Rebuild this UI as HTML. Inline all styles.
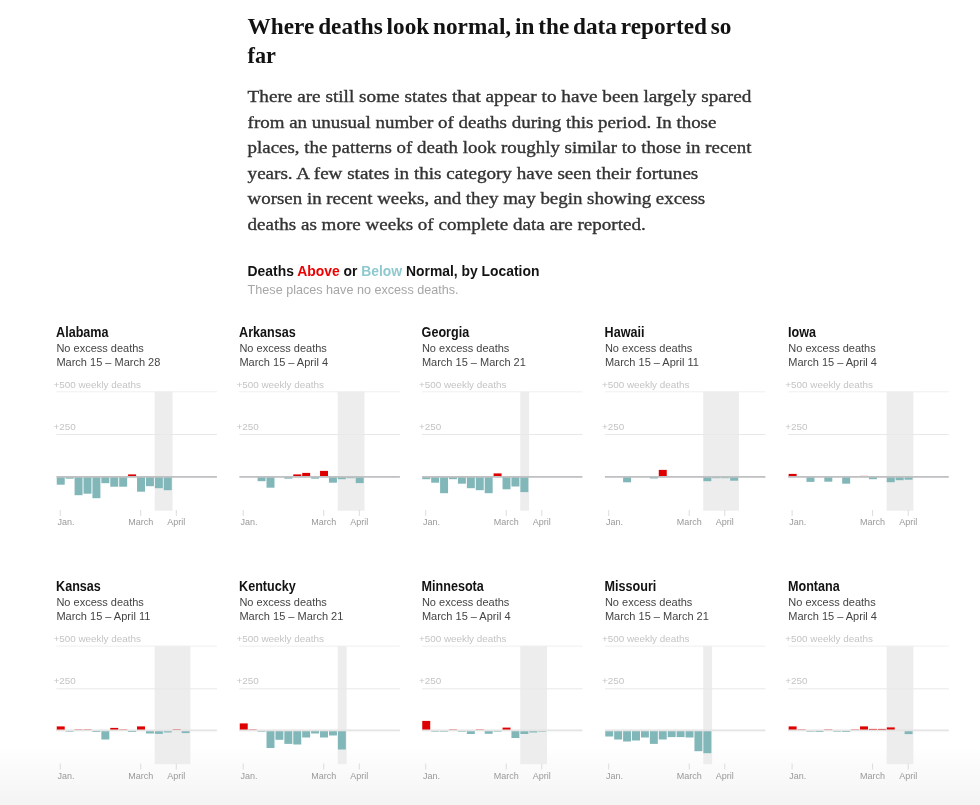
<!DOCTYPE html>
<html><head><meta charset="utf-8"><title>Where deaths look normal</title>
<style>
html,body{margin:0;padding:0;}
body{width:980px;height:805px;overflow:hidden;position:relative;background:#fff;}
.fade{position:absolute;left:0;top:750px;width:980px;height:55px;background:linear-gradient(#fefefe,#f4f4f4);}
svg{position:absolute;left:0;top:0;}
.h{font-family:"Liberation Serif",serif;font-weight:bold;font-size:23.5px;fill:#121212;word-spacing:-2px;}
.b{font-family:"Liberation Serif",serif;font-size:17px;fill:#333;stroke:#333;stroke-width:0.35px;}
.ct{font-family:"Liberation Sans",sans-serif;font-weight:bold;font-size:15px;fill:#121212;}
.cs{font-family:"Liberation Sans",sans-serif;font-size:13.2px;fill:#a6a6a6;}
.pt{font-family:"Liberation Sans",sans-serif;font-weight:bold;font-size:14px;fill:#121212;}
.ps{font-family:"Liberation Sans",sans-serif;font-size:11px;fill:#444;}
.al{font-family:"Liberation Sans",sans-serif;font-size:9.9px;fill:#c4c4c4;}
.tl{font-family:"Liberation Sans",sans-serif;font-size:9px;fill:#999;}
</style></head><body>
<div class="fade"></div>
<svg width="980" height="805" viewBox="0 0 980 805">
<text x="247.6" y="34.1" class="h" textLength="483.8" lengthAdjust="spacingAndGlyphs">Where deaths look normal, in the data reported so</text>
<text x="247.6" y="63" class="h" textLength="28.4" lengthAdjust="spacingAndGlyphs">far</text>
<text x="247.6" y="102.20" class="b" textLength="503.8" lengthAdjust="spacingAndGlyphs">There are still some states that appear to have been largely spared</text>
<text x="247.6" y="127.66" class="b" textLength="468.8" lengthAdjust="spacingAndGlyphs">from an unusual number of deaths during this period. In those</text>
<text x="247.6" y="153.12" class="b" textLength="503.8" lengthAdjust="spacingAndGlyphs">places, the patterns of death look roughly similar to those in recent</text>
<text x="247.6" y="178.58" class="b" textLength="450.7" lengthAdjust="spacingAndGlyphs">years. A few states in this category have seen their fortunes</text>
<text x="247.6" y="204.04" class="b" textLength="457.6" lengthAdjust="spacingAndGlyphs">worsen in recent weeks, and they may begin showing excess</text>
<text x="247.6" y="229.50" class="b" textLength="398.1" lengthAdjust="spacingAndGlyphs">deaths as more weeks of complete data are reported.</text>
<text x="247.6" y="275.7" class="ct" textLength="291.8" lengthAdjust="spacingAndGlyphs">Deaths <tspan fill="#ee0000">Above</tspan> or <tspan fill="#8ec9cf">Below</tspan> Normal, by Location</text>
<text x="247.6" y="294.1" class="cs" textLength="211.0" lengthAdjust="spacingAndGlyphs">These places have no excess deaths.</text>
<text transform="translate(56.10 336.60) scale(0.9 1)" class="pt">Alabama</text>
<text x="56.4" y="351.8" class="ps">No excess deaths</text>
<text x="56.4" y="365.5" class="ps">March 15 – March 28</text>
<text x="53.4" y="387.5" class="al">+500 weekly deaths</text>
<text x="53.4" y="429.5" class="al">+250</text>
<rect x="154.72" y="391.5" width="17.84" height="119.20" fill="#ededed"/>
<rect x="56.4" y="391.3" width="160.5" height="1" fill="#efefef"/>
<rect x="56.4" y="434" width="160.5" height="1" fill="#e8e8e8"/>
<rect x="56.75" y="476.90" width="7.97" height="7.80" fill="#82b7b9"/>
<rect x="65.67" y="476.90" width="7.97" height="1.80" fill="#82b7b9"/>
<rect x="74.59" y="476.90" width="7.97" height="18.30" fill="#82b7b9"/>
<rect x="83.51" y="476.90" width="7.97" height="16.80" fill="#82b7b9"/>
<rect x="92.43" y="476.90" width="7.97" height="21.30" fill="#82b7b9"/>
<rect x="101.35" y="476.90" width="7.97" height="6.30" fill="#82b7b9"/>
<rect x="110.27" y="476.90" width="7.97" height="9.80" fill="#82b7b9"/>
<rect x="119.19" y="476.90" width="7.97" height="9.80" fill="#82b7b9"/>
<rect x="128.11" y="474.40" width="7.97" height="2.50" fill="#de0000"/>
<rect x="137.03" y="476.90" width="7.97" height="14.80" fill="#82b7b9"/>
<rect x="145.95" y="476.90" width="7.97" height="9.30" fill="#82b7b9"/>
<rect x="154.87" y="476.90" width="7.97" height="11.30" fill="#82b7b9"/>
<rect x="163.79" y="476.90" width="7.97" height="13.30" fill="#82b7b9"/>
<rect x="56.4" y="476.00" width="160.5" height="1.8" fill="#bfc1c2"/>
<rect x="59.70" y="510" width="1" height="6" fill="#dcdcdc"/>
<rect x="140.20" y="510" width="1" height="6" fill="#dcdcdc"/>
<rect x="175.80" y="510" width="1" height="6" fill="#dcdcdc"/>
<text x="57.4" y="525" class="tl">Jan.</text>
<text x="140.7" y="525" class="tl" text-anchor="middle">March</text>
<text x="176.3" y="525" class="tl" text-anchor="middle">April</text>
<text transform="translate(239.10 336.60) scale(0.9 1)" class="pt">Arkansas</text>
<text x="239.4" y="351.8" class="ps">No excess deaths</text>
<text x="239.4" y="365.5" class="ps">March 15 – April 4</text>
<text x="236.4" y="387.5" class="al">+500 weekly deaths</text>
<text x="236.4" y="429.5" class="al">+250</text>
<rect x="337.72" y="391.5" width="26.76" height="119.20" fill="#ededed"/>
<rect x="239.4" y="391.3" width="160.5" height="1" fill="#efefef"/>
<rect x="239.4" y="434" width="160.5" height="1" fill="#e8e8e8"/>
<rect x="248.67" y="476.00" width="7.97" height="0.90" fill="#de0000"/>
<rect x="257.59" y="476.90" width="7.97" height="4.30" fill="#82b7b9"/>
<rect x="266.51" y="476.90" width="7.97" height="10.80" fill="#82b7b9"/>
<rect x="284.35" y="476.90" width="7.97" height="1.80" fill="#82b7b9"/>
<rect x="293.27" y="474.40" width="7.97" height="2.50" fill="#de0000"/>
<rect x="302.19" y="472.90" width="7.97" height="4.00" fill="#de0000"/>
<rect x="311.11" y="476.90" width="7.97" height="1.80" fill="#82b7b9"/>
<rect x="320.03" y="470.90" width="7.97" height="6.00" fill="#de0000"/>
<rect x="328.95" y="476.90" width="7.97" height="5.80" fill="#82b7b9"/>
<rect x="337.87" y="476.90" width="7.97" height="2.30" fill="#82b7b9"/>
<rect x="346.79" y="476.90" width="7.97" height="1.30" fill="#82b7b9"/>
<rect x="355.71" y="476.90" width="7.97" height="6.20" fill="#82b7b9"/>
<rect x="239.4" y="476.00" width="160.5" height="1.8" fill="#bfc1c2"/>
<rect x="242.70" y="510" width="1" height="6" fill="#dcdcdc"/>
<rect x="323.20" y="510" width="1" height="6" fill="#dcdcdc"/>
<rect x="358.80" y="510" width="1" height="6" fill="#dcdcdc"/>
<text x="240.4" y="525" class="tl">Jan.</text>
<text x="323.7" y="525" class="tl" text-anchor="middle">March</text>
<text x="359.3" y="525" class="tl" text-anchor="middle">April</text>
<text transform="translate(421.60 336.60) scale(0.9 1)" class="pt">Georgia</text>
<text x="421.9" y="351.8" class="ps">No excess deaths</text>
<text x="421.9" y="365.5" class="ps">March 15 – March 21</text>
<text x="418.9" y="387.5" class="al">+500 weekly deaths</text>
<text x="418.9" y="429.5" class="al">+250</text>
<rect x="520.22" y="391.5" width="8.92" height="119.20" fill="#ededed"/>
<rect x="421.9" y="391.3" width="160.5" height="1" fill="#efefef"/>
<rect x="421.9" y="434" width="160.5" height="1" fill="#e8e8e8"/>
<rect x="422.25" y="476.90" width="7.97" height="2.30" fill="#82b7b9"/>
<rect x="431.17" y="476.90" width="7.97" height="5.80" fill="#82b7b9"/>
<rect x="440.09" y="476.90" width="7.97" height="16.30" fill="#82b7b9"/>
<rect x="449.01" y="476.90" width="7.97" height="2.30" fill="#82b7b9"/>
<rect x="457.93" y="476.90" width="7.97" height="6.80" fill="#82b7b9"/>
<rect x="466.85" y="476.90" width="7.97" height="11.30" fill="#82b7b9"/>
<rect x="475.77" y="476.90" width="7.97" height="13.30" fill="#82b7b9"/>
<rect x="484.69" y="476.90" width="7.97" height="16.30" fill="#82b7b9"/>
<rect x="493.61" y="473.40" width="7.97" height="3.50" fill="#de0000"/>
<rect x="502.53" y="476.90" width="7.97" height="12.40" fill="#82b7b9"/>
<rect x="511.45" y="476.90" width="7.97" height="9.60" fill="#82b7b9"/>
<rect x="520.37" y="476.90" width="7.97" height="15.20" fill="#82b7b9"/>
<rect x="421.9" y="476.00" width="160.5" height="1.8" fill="#bfc1c2"/>
<rect x="425.20" y="510" width="1" height="6" fill="#dcdcdc"/>
<rect x="505.70" y="510" width="1" height="6" fill="#dcdcdc"/>
<rect x="541.30" y="510" width="1" height="6" fill="#dcdcdc"/>
<text x="422.9" y="525" class="tl">Jan.</text>
<text x="506.2" y="525" class="tl" text-anchor="middle">March</text>
<text x="541.8" y="525" class="tl" text-anchor="middle">April</text>
<text transform="translate(604.60 336.60) scale(0.9 1)" class="pt">Hawaii</text>
<text x="604.9" y="351.8" class="ps">No excess deaths</text>
<text x="604.9" y="365.5" class="ps">March 15 – April 11</text>
<text x="601.9" y="387.5" class="al">+500 weekly deaths</text>
<text x="601.9" y="429.5" class="al">+250</text>
<rect x="703.22" y="391.5" width="35.68" height="119.20" fill="#ededed"/>
<rect x="604.9" y="391.3" width="160.5" height="1" fill="#efefef"/>
<rect x="604.9" y="434" width="160.5" height="1" fill="#e8e8e8"/>
<rect x="623.09" y="476.90" width="7.97" height="5.40" fill="#82b7b9"/>
<rect x="649.85" y="476.90" width="7.97" height="1.60" fill="#82b7b9"/>
<rect x="658.77" y="469.90" width="7.97" height="7.00" fill="#de0000"/>
<rect x="667.69" y="476.00" width="7.97" height="0.90" fill="#de0000"/>
<rect x="685.53" y="476.00" width="7.97" height="0.90" fill="#de0000"/>
<rect x="694.45" y="476.00" width="7.97" height="0.90" fill="#de0000"/>
<rect x="703.37" y="476.90" width="7.97" height="4.30" fill="#82b7b9"/>
<rect x="712.29" y="476.90" width="7.97" height="1.30" fill="#82b7b9"/>
<rect x="721.21" y="476.90" width="7.97" height="1.30" fill="#82b7b9"/>
<rect x="730.13" y="476.90" width="7.97" height="3.80" fill="#82b7b9"/>
<rect x="604.9" y="476.00" width="160.5" height="1.8" fill="#bfc1c2"/>
<rect x="608.20" y="510" width="1" height="6" fill="#dcdcdc"/>
<rect x="688.70" y="510" width="1" height="6" fill="#dcdcdc"/>
<rect x="724.30" y="510" width="1" height="6" fill="#dcdcdc"/>
<text x="605.9" y="525" class="tl">Jan.</text>
<text x="689.2" y="525" class="tl" text-anchor="middle">March</text>
<text x="724.8" y="525" class="tl" text-anchor="middle">April</text>
<text transform="translate(788.00 336.60) scale(0.9 1)" class="pt">Iowa</text>
<text x="788.3" y="351.8" class="ps">No excess deaths</text>
<text x="788.3" y="365.5" class="ps">March 15 – April 4</text>
<text x="785.3" y="387.5" class="al">+500 weekly deaths</text>
<text x="785.3" y="429.5" class="al">+250</text>
<rect x="886.62" y="391.5" width="26.76" height="119.20" fill="#ededed"/>
<rect x="788.3" y="391.3" width="160.5" height="1" fill="#efefef"/>
<rect x="788.3" y="434" width="160.5" height="1" fill="#e8e8e8"/>
<rect x="788.65" y="473.90" width="7.97" height="3.00" fill="#de0000"/>
<rect x="806.49" y="476.90" width="7.97" height="5.00" fill="#82b7b9"/>
<rect x="824.33" y="476.90" width="7.97" height="4.80" fill="#82b7b9"/>
<rect x="842.17" y="476.90" width="7.97" height="6.80" fill="#82b7b9"/>
<rect x="851.09" y="476.00" width="7.97" height="0.90" fill="#de0000"/>
<rect x="860.01" y="475.90" width="7.97" height="1.00" fill="#de0000"/>
<rect x="868.93" y="476.90" width="7.97" height="2.30" fill="#82b7b9"/>
<rect x="877.85" y="476.00" width="7.97" height="0.90" fill="#de0000"/>
<rect x="886.77" y="476.90" width="7.97" height="5.30" fill="#82b7b9"/>
<rect x="895.69" y="476.90" width="7.97" height="3.30" fill="#82b7b9"/>
<rect x="904.61" y="476.90" width="7.97" height="2.80" fill="#82b7b9"/>
<rect x="788.3" y="476.00" width="160.5" height="1.8" fill="#bfc1c2"/>
<rect x="791.60" y="510" width="1" height="6" fill="#dcdcdc"/>
<rect x="872.10" y="510" width="1" height="6" fill="#dcdcdc"/>
<rect x="907.70" y="510" width="1" height="6" fill="#dcdcdc"/>
<text x="789.3" y="525" class="tl">Jan.</text>
<text x="872.6" y="525" class="tl" text-anchor="middle">March</text>
<text x="908.2" y="525" class="tl" text-anchor="middle">April</text>
<text transform="translate(56.10 590.90) scale(0.9 1)" class="pt">Kansas</text>
<text x="56.4" y="606.1" class="ps">No excess deaths</text>
<text x="56.4" y="619.8" class="ps">March 15 – April 11</text>
<text x="53.4" y="641.8" class="al">+500 weekly deaths</text>
<text x="53.4" y="683.8" class="al">+250</text>
<rect x="154.72" y="645.8" width="35.68" height="118.40" fill="#ededed"/>
<rect x="56.4" y="645.6" width="160.5" height="1" fill="#efefef"/>
<rect x="56.4" y="688.3" width="160.5" height="1" fill="#e8e8e8"/>
<rect x="56.75" y="726.40" width="7.97" height="4.00" fill="#de0000"/>
<rect x="65.67" y="730.40" width="7.97" height="1.30" fill="#82b7b9"/>
<rect x="74.59" y="729.50" width="7.97" height="0.90" fill="#de0000"/>
<rect x="83.51" y="729.50" width="7.97" height="0.90" fill="#de0000"/>
<rect x="92.43" y="730.40" width="7.97" height="1.60" fill="#82b7b9"/>
<rect x="101.35" y="730.40" width="7.97" height="9.10" fill="#82b7b9"/>
<rect x="110.27" y="727.90" width="7.97" height="2.50" fill="#de0000"/>
<rect x="119.19" y="729.50" width="7.97" height="0.90" fill="#de0000"/>
<rect x="128.11" y="730.40" width="7.97" height="1.60" fill="#82b7b9"/>
<rect x="137.03" y="726.40" width="7.97" height="4.00" fill="#de0000"/>
<rect x="145.95" y="730.40" width="7.97" height="3.10" fill="#82b7b9"/>
<rect x="154.87" y="730.40" width="7.97" height="3.50" fill="#82b7b9"/>
<rect x="163.79" y="730.40" width="7.97" height="2.10" fill="#82b7b9"/>
<rect x="172.71" y="729.40" width="7.97" height="1.00" fill="#de0000"/>
<rect x="181.63" y="730.40" width="7.97" height="2.70" fill="#82b7b9"/>
<rect x="56.4" y="729.50" width="160.5" height="1.8" fill="#e4e4e4"/>
<rect x="59.70" y="763.5" width="1" height="6" fill="#dcdcdc"/>
<rect x="140.20" y="763.5" width="1" height="6" fill="#dcdcdc"/>
<rect x="175.80" y="763.5" width="1" height="6" fill="#dcdcdc"/>
<text x="57.4" y="778.5" class="tl">Jan.</text>
<text x="140.7" y="778.5" class="tl" text-anchor="middle">March</text>
<text x="176.3" y="778.5" class="tl" text-anchor="middle">April</text>
<text transform="translate(239.10 590.90) scale(0.9 1)" class="pt">Kentucky</text>
<text x="239.4" y="606.1" class="ps">No excess deaths</text>
<text x="239.4" y="619.8" class="ps">March 15 – March 21</text>
<text x="236.4" y="641.8" class="al">+500 weekly deaths</text>
<text x="236.4" y="683.8" class="al">+250</text>
<rect x="337.72" y="645.8" width="8.92" height="118.40" fill="#ededed"/>
<rect x="239.4" y="645.6" width="160.5" height="1" fill="#efefef"/>
<rect x="239.4" y="688.3" width="160.5" height="1" fill="#e8e8e8"/>
<rect x="239.75" y="723.40" width="7.97" height="7.00" fill="#de0000"/>
<rect x="248.67" y="729.50" width="7.97" height="0.90" fill="#de0000"/>
<rect x="257.59" y="730.40" width="7.97" height="1.30" fill="#82b7b9"/>
<rect x="266.51" y="730.40" width="7.97" height="17.60" fill="#82b7b9"/>
<rect x="275.43" y="730.40" width="7.97" height="9.40" fill="#82b7b9"/>
<rect x="284.35" y="730.40" width="7.97" height="13.50" fill="#82b7b9"/>
<rect x="293.27" y="730.40" width="7.97" height="14.10" fill="#82b7b9"/>
<rect x="302.19" y="730.40" width="7.97" height="7.10" fill="#82b7b9"/>
<rect x="311.11" y="730.40" width="7.97" height="3.10" fill="#82b7b9"/>
<rect x="320.03" y="730.40" width="7.97" height="7.10" fill="#82b7b9"/>
<rect x="328.95" y="730.40" width="7.97" height="5.10" fill="#82b7b9"/>
<rect x="337.87" y="730.40" width="7.97" height="19.10" fill="#82b7b9"/>
<rect x="239.4" y="729.50" width="160.5" height="1.8" fill="#e4e4e4"/>
<rect x="242.70" y="763.5" width="1" height="6" fill="#dcdcdc"/>
<rect x="323.20" y="763.5" width="1" height="6" fill="#dcdcdc"/>
<rect x="358.80" y="763.5" width="1" height="6" fill="#dcdcdc"/>
<text x="240.4" y="778.5" class="tl">Jan.</text>
<text x="323.7" y="778.5" class="tl" text-anchor="middle">March</text>
<text x="359.3" y="778.5" class="tl" text-anchor="middle">April</text>
<text transform="translate(421.60 590.90) scale(0.9 1)" class="pt">Minnesota</text>
<text x="421.9" y="606.1" class="ps">No excess deaths</text>
<text x="421.9" y="619.8" class="ps">March 15 – April 4</text>
<text x="418.9" y="641.8" class="al">+500 weekly deaths</text>
<text x="418.9" y="683.8" class="al">+250</text>
<rect x="520.22" y="645.8" width="26.76" height="118.40" fill="#ededed"/>
<rect x="421.9" y="645.6" width="160.5" height="1" fill="#efefef"/>
<rect x="421.9" y="688.3" width="160.5" height="1" fill="#e8e8e8"/>
<rect x="422.25" y="720.90" width="7.97" height="9.50" fill="#de0000"/>
<rect x="431.17" y="730.40" width="7.97" height="1.30" fill="#82b7b9"/>
<rect x="440.09" y="730.40" width="7.97" height="1.30" fill="#82b7b9"/>
<rect x="449.01" y="729.50" width="7.97" height="0.90" fill="#de0000"/>
<rect x="457.93" y="730.40" width="7.97" height="1.30" fill="#82b7b9"/>
<rect x="466.85" y="730.40" width="7.97" height="3.60" fill="#82b7b9"/>
<rect x="475.77" y="729.50" width="7.97" height="0.90" fill="#de0000"/>
<rect x="484.69" y="730.40" width="7.97" height="3.40" fill="#82b7b9"/>
<rect x="493.61" y="730.40" width="7.97" height="1.30" fill="#82b7b9"/>
<rect x="502.53" y="727.60" width="7.97" height="2.80" fill="#de0000"/>
<rect x="511.45" y="730.40" width="7.97" height="7.60" fill="#82b7b9"/>
<rect x="520.37" y="730.40" width="7.97" height="3.60" fill="#82b7b9"/>
<rect x="529.29" y="730.40" width="7.97" height="2.10" fill="#82b7b9"/>
<rect x="538.21" y="730.40" width="7.97" height="1.30" fill="#82b7b9"/>
<rect x="421.9" y="729.50" width="160.5" height="1.8" fill="#e4e4e4"/>
<rect x="425.20" y="763.5" width="1" height="6" fill="#dcdcdc"/>
<rect x="505.70" y="763.5" width="1" height="6" fill="#dcdcdc"/>
<rect x="541.30" y="763.5" width="1" height="6" fill="#dcdcdc"/>
<text x="422.9" y="778.5" class="tl">Jan.</text>
<text x="506.2" y="778.5" class="tl" text-anchor="middle">March</text>
<text x="541.8" y="778.5" class="tl" text-anchor="middle">April</text>
<text transform="translate(604.60 590.90) scale(0.9 1)" class="pt">Missouri</text>
<text x="604.9" y="606.1" class="ps">No excess deaths</text>
<text x="604.9" y="619.8" class="ps">March 15 – March 21</text>
<text x="601.9" y="641.8" class="al">+500 weekly deaths</text>
<text x="601.9" y="683.8" class="al">+250</text>
<rect x="703.22" y="645.8" width="8.92" height="118.40" fill="#ededed"/>
<rect x="604.9" y="645.6" width="160.5" height="1" fill="#efefef"/>
<rect x="604.9" y="688.3" width="160.5" height="1" fill="#e8e8e8"/>
<rect x="605.25" y="730.40" width="7.97" height="6.10" fill="#82b7b9"/>
<rect x="614.17" y="730.40" width="7.97" height="9.10" fill="#82b7b9"/>
<rect x="623.09" y="730.40" width="7.97" height="11.10" fill="#82b7b9"/>
<rect x="632.01" y="730.40" width="7.97" height="10.10" fill="#82b7b9"/>
<rect x="640.93" y="730.40" width="7.97" height="7.10" fill="#82b7b9"/>
<rect x="649.85" y="730.40" width="7.97" height="13.50" fill="#82b7b9"/>
<rect x="658.77" y="730.40" width="7.97" height="9.10" fill="#82b7b9"/>
<rect x="667.69" y="730.40" width="7.97" height="6.70" fill="#82b7b9"/>
<rect x="676.61" y="730.40" width="7.97" height="6.70" fill="#82b7b9"/>
<rect x="685.53" y="730.40" width="7.97" height="7.10" fill="#82b7b9"/>
<rect x="694.45" y="730.40" width="7.97" height="20.80" fill="#82b7b9"/>
<rect x="703.37" y="730.40" width="7.97" height="22.80" fill="#82b7b9"/>
<rect x="604.9" y="729.50" width="160.5" height="1.8" fill="#e4e4e4"/>
<rect x="608.20" y="763.5" width="1" height="6" fill="#dcdcdc"/>
<rect x="688.70" y="763.5" width="1" height="6" fill="#dcdcdc"/>
<rect x="724.30" y="763.5" width="1" height="6" fill="#dcdcdc"/>
<text x="605.9" y="778.5" class="tl">Jan.</text>
<text x="689.2" y="778.5" class="tl" text-anchor="middle">March</text>
<text x="724.8" y="778.5" class="tl" text-anchor="middle">April</text>
<text transform="translate(788.00 590.90) scale(0.9 1)" class="pt">Montana</text>
<text x="788.3" y="606.1" class="ps">No excess deaths</text>
<text x="788.3" y="619.8" class="ps">March 15 – April 4</text>
<text x="785.3" y="641.8" class="al">+500 weekly deaths</text>
<text x="785.3" y="683.8" class="al">+250</text>
<rect x="886.62" y="645.8" width="26.76" height="118.40" fill="#ededed"/>
<rect x="788.3" y="645.6" width="160.5" height="1" fill="#efefef"/>
<rect x="788.3" y="688.3" width="160.5" height="1" fill="#e8e8e8"/>
<rect x="788.65" y="726.40" width="7.97" height="4.00" fill="#de0000"/>
<rect x="797.57" y="729.50" width="7.97" height="0.90" fill="#de0000"/>
<rect x="806.49" y="730.40" width="7.97" height="1.30" fill="#82b7b9"/>
<rect x="815.41" y="730.40" width="7.97" height="1.60" fill="#82b7b9"/>
<rect x="824.33" y="729.50" width="7.97" height="0.90" fill="#de0000"/>
<rect x="833.25" y="730.40" width="7.97" height="1.30" fill="#82b7b9"/>
<rect x="842.17" y="730.40" width="7.97" height="1.60" fill="#82b7b9"/>
<rect x="851.09" y="729.50" width="7.97" height="0.90" fill="#de0000"/>
<rect x="860.01" y="726.40" width="7.97" height="4.00" fill="#de0000"/>
<rect x="868.93" y="728.90" width="7.97" height="1.50" fill="#de0000"/>
<rect x="877.85" y="728.90" width="7.97" height="1.50" fill="#de0000"/>
<rect x="886.77" y="727.40" width="7.97" height="3.00" fill="#de0000"/>
<rect x="904.61" y="730.40" width="7.97" height="3.70" fill="#82b7b9"/>
<rect x="788.3" y="729.50" width="160.5" height="1.8" fill="#e4e4e4"/>
<rect x="791.60" y="763.5" width="1" height="6" fill="#dcdcdc"/>
<rect x="872.10" y="763.5" width="1" height="6" fill="#dcdcdc"/>
<rect x="907.70" y="763.5" width="1" height="6" fill="#dcdcdc"/>
<text x="789.3" y="778.5" class="tl">Jan.</text>
<text x="872.6" y="778.5" class="tl" text-anchor="middle">March</text>
<text x="908.2" y="778.5" class="tl" text-anchor="middle">April</text>
</svg>
</body></html>
